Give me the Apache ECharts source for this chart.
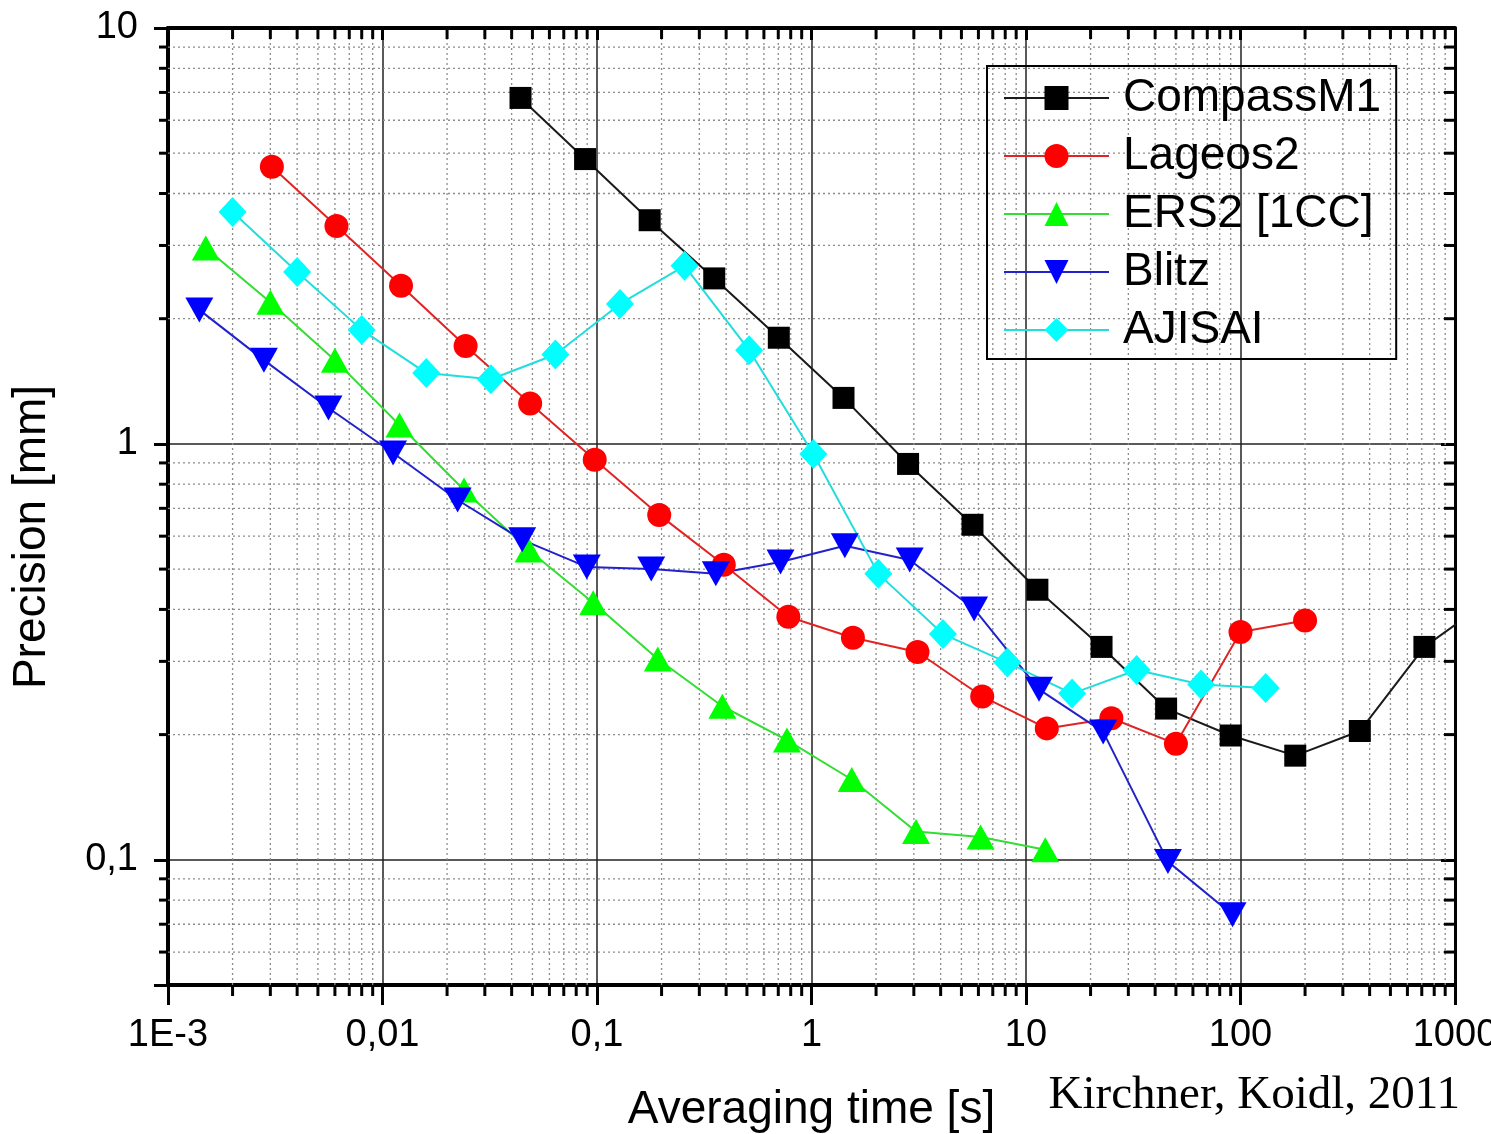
<!DOCTYPE html>
<html>
<head>
<meta charset="utf-8">
<title>Precision vs averaging time</title>
<script src="https://cdn.jsdelivr.net/npm/echarts@6/dist/echarts.min.js"></script>
<style>
  html, body { margin: 0; padding: 0; background: #fff; }
  #chart { width: 1491px; height: 1134px; }
</style>
</head>
<body>
<div id="chart"></div>
<script>
// axis ranges and tick labels
var X_MIN = 0.001, X_MAX = 1000;
var Y_MIN = 0.05, Y_MAX = 10;
var xTickValues = [0.001, 0.01, 0.1, 1, 10, 100, 1000];
var xTickLabels = ['1E-3', '0,01', '0,1', '1', '10', '100', '1000'];
var yTickValues = [0.1, 1, 10];
var yTickLabels = ['0,1', '1', '10'];

// series (averaging time [s], precision [mm])
var compassX = [0.044, 0.088, 0.176, 0.352, 0.704, 1.41, 2.82, 5.63, 11.3, 22.5, 45, 90, 180, 360, 720, 1440];
var compassY = [6.79, 4.84, 3.45, 2.50, 1.80, 1.29, 0.895, 0.639, 0.446, 0.325, 0.231, 0.199, 0.178, 0.204, 0.325, 0.42];

var lageosX = [0.00305, 0.0061, 0.0122, 0.0244, 0.0488, 0.0976, 0.195, 0.39, 0.78, 1.56, 3.12, 6.25, 12.5, 25, 50, 100, 200];
var lageosY = [4.64, 3.34, 2.40, 1.72, 1.25, 0.916, 0.675, 0.512, 0.384, 0.342, 0.316, 0.247, 0.207, 0.219, 0.190, 0.353, 0.376];

var ersX = [0.0015, 0.003, 0.006, 0.012, 0.024, 0.048, 0.096, 0.192, 0.384, 0.768, 1.54, 3.07, 6.14, 12.3];
var ersY = [2.96, 2.19, 1.59, 1.11, 0.775, 0.556, 0.415, 0.304, 0.234, 0.194, 0.156, 0.117, 0.1135, 0.1057];

var blitzX = [0.0014, 0.0028, 0.0056, 0.0112, 0.0224, 0.0448, 0.0896, 0.179, 0.358, 0.717, 1.43, 2.87, 5.73, 11.5, 22.9, 45.9, 91.8];
var blitzY = [2.10, 1.59, 1.22, 0.951, 0.733, 0.588, 0.506, 0.500, 0.487, 0.520, 0.569, 0.526, 0.401, 0.257, 0.203, 0.099, 0.0738];

var ajisaiX = [0.002, 0.004, 0.008, 0.016, 0.032, 0.064, 0.128, 0.256, 0.512, 1.02, 2.05, 4.1, 8.19, 16.4, 32.8, 65.5, 131];
var ajisaiY = [3.61, 2.59, 1.88, 1.48, 1.43, 1.64, 2.17, 2.68, 1.68, 0.946, 0.487, 0.349, 0.298, 0.251, 0.286, 0.264, 0.259];

// minor grid positions (2..9 in every decade)
var xMinor = [];
for (var k = -3; k < 3; k++) {
  for (var m = 2; m <= 9; m++) xMinor.push(+(m * Math.pow(10, k)).toPrecision(3));
}
var yMinor = [0.06, 0.07, 0.08, 0.09];
for (var k2 = -1; k2 < 1; k2++) {
  for (var m2 = 2; m2 <= 9; m2++) yMinor.push(+(m2 * Math.pow(10, k2)).toPrecision(3));
}

var FONT = 'Liberation Sans, Arial, sans-serif';

function pickLabel(vals, labels, v) {
  for (var i = 0; i < vals.length; i++) {
    if (Math.abs(Math.log10(v) - Math.log10(vals[i])) < 1e-6) return labels[i];
  }
  return '';
}

function zip(xs, ys) {
  return xs.map(function (x, i) { return [x, ys[i]]; });
}

// dotted minor grid + small ticks on the frame
function renderMinorX(params, api) {
  var v = api.value(0);
  var top = api.coord([v, Y_MAX]);
  var bot = api.coord([v, Y_MIN]);
  return {
    type: 'group',
    children: [
      { type: 'line', shape: { x1: top[0], y1: top[1], x2: bot[0], y2: bot[1] }, style: { stroke: '#8c8c8c', lineWidth: 1.3, lineDash: [2, 3] } },
      { type: 'line', shape: { x1: bot[0], y1: bot[1], x2: bot[0], y2: bot[1] + 11 }, style: { stroke: '#000', lineWidth: 3 } },
      { type: 'line', shape: { x1: top[0], y1: top[1], x2: top[0], y2: top[1] + 11 }, style: { stroke: '#000', lineWidth: 3 } }
    ]
  };
}
function renderMinorY(params, api) {
  var v = api.value(1);
  var left = api.coord([X_MIN, v]);
  var right = api.coord([X_MAX, v]);
  return {
    type: 'group',
    children: [
      { type: 'line', shape: { x1: left[0], y1: left[1], x2: right[0], y2: right[1] }, style: { stroke: '#8c8c8c', lineWidth: 1.3, lineDash: [2, 3] } },
      { type: 'line', shape: { x1: left[0] - 9, y1: left[1], x2: left[0], y2: left[1] }, style: { stroke: '#000', lineWidth: 3 } },
      { type: 'line', shape: { x1: right[0] - 11, y1: right[1], x2: right[0], y2: right[1] }, style: { stroke: '#000', lineWidth: 3 } }
    ]
  };
}

function lineSeries(name, data, color, lineColor, symbol, size, rotate) {
  return {
    name: name,
    type: 'line',
    data: data,
    symbol: symbol,
    symbolSize: size,
    symbolRotate: rotate || 0,
    showAllSymbol: true,
    clip: true,
    z: 3,
    itemStyle: { color: color },
    lineStyle: { color: lineColor, width: 2 }
  };
}

var chart = echarts.init(document.getElementById('chart'));
var option = {
  animation: false,
  backgroundColor: '#fff',
  grid: { left: 168, right: 36, top: 28, bottom: 149, outerBoundsMode: 'none', containLabel: false },
  legend: {
    orient: 'vertical',
    left: 987,
    top: 66,
    padding: [9, 15, 6, 16],
    borderColor: '#000',
    borderWidth: 2,
    itemWidth: 105,
    itemHeight: 30,
    itemGap: 12,
    textStyle: { fontFamily: FONT, fontSize: 46, color: '#000', lineHeight: 46, padding: [0, 0, 0, 9] },
    data: ['CompassM1', 'Lageos2', 'ERS2 [1CC]', 'Blitz', 'AJISAI']
  },
  xAxis: [{
    type: 'log',
    logBase: 10,
    min: X_MIN,
    max: X_MAX,
    name: 'Averaging time [s]',
    nameLocation: 'middle',
    nameGap: 102,
    nameTextStyle: { fontFamily: FONT, fontSize: 46, color: '#000' },
    axisLine: { lineStyle: { color: '#000', width: 4 } },
    axisTick: { inside: false, length: 20, lineStyle: { color: '#000', width: 3 } },
    axisLabel: {
      fontFamily: FONT, fontSize: 38, color: '#000', margin: 32,
      formatter: function (v) { return pickLabel(xTickValues, xTickLabels, v); }
    },
    splitLine: { show: true, lineStyle: { color: '#222', width: 1.5 } }
  }, {
    type: 'log',
    logBase: 10,
    min: X_MIN,
    max: X_MAX,
    position: 'top',
    axisLine: { lineStyle: { color: '#000', width: 4 } },
    axisTick: { inside: true, length: 12, lineStyle: { color: '#000', width: 3 } },
    axisLabel: { show: false },
    splitLine: { show: false }
  }],
  yAxis: [{
    type: 'log',
    logBase: 10,
    min: Y_MIN,
    max: Y_MAX,
    axisLine: { lineStyle: { color: '#000', width: 4 } },
    axisTick: { inside: false, length: 14, lineStyle: { color: '#000', width: 3 } },
    axisLabel: {
      fontFamily: FONT, fontSize: 38, color: '#000', margin: 30,
      formatter: function (v) { return pickLabel(yTickValues, yTickLabels, v); }
    },
    splitLine: { show: true, lineStyle: { color: '#222', width: 1.5 } }
  }, {
    type: 'log',
    logBase: 10,
    min: Y_MIN,
    max: Y_MAX,
    position: 'right',
    axisLine: { lineStyle: { color: '#000', width: 3 } },
    axisTick: { inside: true, length: 14, lineStyle: { color: '#000', width: 3 } },
    axisLabel: { show: false },
    splitLine: { show: false }
  }],
  graphic: [{
    type: 'text',
    x: 32,
    y: 537,
    rotation: Math.PI / 2,
    style: { text: 'Precision [mm]', font: '46px ' + FONT, fill: '#000', textAlign: 'center', textVerticalAlign: 'middle' }
  }, {
    type: 'text',
    x: 1460,
    y: 1096,
    style: { text: 'Kirchner, Koidl, 2011', font: '47px Liberation Serif, Times New Roman, serif', fill: '#000', textAlign: 'right', textVerticalAlign: 'middle' }
  }],
  series: [
    {
      type: 'custom', silent: true, clip: false, z: 1,
      renderItem: renderMinorX,
      data: xMinor.map(function (v) { return [v, 1]; })
    },
    {
      type: 'custom', silent: true, clip: false, z: 1,
      renderItem: renderMinorY,
      data: yMinor.map(function (v) { return [1, v]; })
    },
    lineSeries('CompassM1', zip(compassX, compassY), '#000', '#1a1a1a', 'rect', 22),
    lineSeries('Lageos2', zip(lageosX, lageosY), '#ff0000', '#e02424', 'circle', 24),
    lineSeries('ERS2 [1CC]', zip(ersX, ersY), '#00ff00', '#33dd33', 'triangle', [28, 25]),
    lineSeries('Blitz', zip(blitzX, blitzY), '#0000ff', '#2222cc', 'triangle', [28, 25], 180),
    lineSeries('AJISAI', zip(ajisaiX, ajisaiY), '#00ffff', '#22dddd', 'diamond', [28, 30])
  ]
};
chart.setOption(option);
</script>
</body>
</html>
